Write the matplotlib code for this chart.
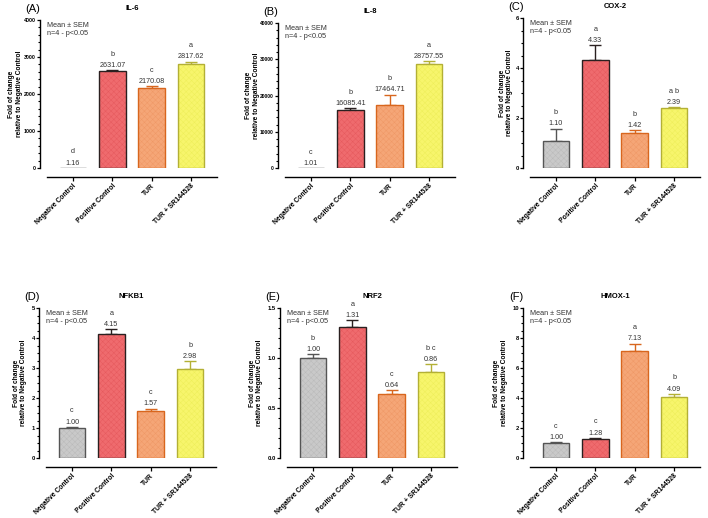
import numpy as np
import matplotlib
matplotlib.use('Agg')
import matplotlib.pyplot as plt
from matplotlib.ticker import MultipleLocator, FormatStrFormatter

plt.rcParams['font.family'] = ['Liberation Sans', 'DejaVu Sans']
plt.rcParams['hatch.linewidth'] = 0.35

# ========================= Data =========================
groups = ['Negative Control', 'Positive Control', 'TUR', 'TUR + SR144528']

il6_mean = [1.16, 2631.07, 2170.08, 2817.62]
il6_sem = [0, 15, 40, 60]
il6_letters = ['d', 'b', 'c', 'a']

il8_mean = [1.01, 16085.41, 17464.71, 28757.55]
il8_sem = [0, 450, 2800, 700]
il8_letters = ['c', 'b', 'b', 'a']

cox2_mean = [1.10, 4.33, 1.42, 2.39]
cox2_sem = [0.48, 0.58, 0.10, 0.05]
cox2_letters = ['b', 'a', 'b', 'a b']

nfkb1_mean = [1.00, 4.15, 1.57, 2.98]
nfkb1_sem = [0.04, 0.15, 0.08, 0.25]
nfkb1_letters = ['c', 'a', 'c', 'b']

nrf2_mean = [1.00, 1.31, 0.64, 0.86]
nrf2_sem = [0.04, 0.07, 0.04, 0.08]
nrf2_letters = ['b', 'a', 'c', 'b c']

hmox1_mean = [1.00, 1.28, 7.13, 4.09]
hmox1_sem = [0.06, 0.06, 0.50, 0.20]
hmox1_letters = ['c', 'c', 'a', 'b']

# ========================= Style =========================
FILLS = ['#c9c9c9', '#ef6b6e', '#f5a677', '#f7f56c']
HATCH = ['#bababa', '#e65a5e', '#ef9866', '#eeee5a']
EDGES = ['#555555', '#2a2020', '#d8661e', '#b3b035']

W, H = 708, 518
AX_W = 170

# (title, tag, means, sems, letters, ymax, major, minor,
#  left_px, top_px, bottom_px, tick size, ylabel x in px from axes left)
panels = [
    ('IL-6', '(A)', il6_mean, il6_sem, il6_letters, 4000, 1000, 200, 47, 20, 168, 3.8, -24),
    ('IL-8', '(B)', il8_mean, il8_sem, il8_letters, 40000, 10000, 2000, 285, 23, 168, 3.5, -25),
    ('COX-2', '(C)', cox2_mean, cox2_sem, cox2_letters, 6, 2, 0.5, 530, 18, 168, 4.2, -17),
    ('NFKB1', '(D)', nfkb1_mean, nfkb1_sem, nfkb1_letters, 5, 1, 0.25, 46, 308, 458, 4.2, -19),
    ('NRF2', '(E)', nrf2_mean, nrf2_sem, nrf2_letters, 1.5, 0.5, 0.1, 287, 308, 458, 4.2, -24),
    ('HMOX-1', '(F)', hmox1_mean, hmox1_sem, hmox1_letters, 10, 2, 0.5, 530, 308, 458, 4.2, -22),
]

fig = plt.figure(figsize=(W / 100, H / 100), dpi=100)

for (title, tag, means, sems, letters, ymax, major, minor,
     lpx, tpx, bpx, tsize, ylab_px) in panels:
    ax = fig.add_axes([lpx / W, 1 - bpx / H, AX_W / W, (bpx - tpx) / H])
    x = np.arange(len(groups))

    # hatch layer, then outline
    ax.bar(x, means, width=0.68, color=FILLS, edgecolor=HATCH, linewidth=0,
           hatch='xxxxxx', zorder=2)
    ax.bar(x, means, width=0.68, color='none', edgecolor=EDGES, linewidth=1.0,
           zorder=3)
    for i in range(len(groups)):
        if sems[i] > 0:
            ax.errorbar(x[i], means[i], yerr=[[0], [sems[i]]], fmt='none',
                        ecolor=EDGES[i], elinewidth=1.0, capsize=4.5,
                        capthick=1.0, zorder=1)
        top = means[i] + sems[i]
        ax.annotate(f'{means[i]:.2f}', (x[i], top), xytext=(0, 3.3),
                    textcoords='offset points', ha='center', va='center',
                    fontsize=5.2, color='#333333')
        ax.annotate(letters[i], (x[i], top), xytext=(0, 11.5),
                    textcoords='offset points', ha='center', va='center',
                    fontsize=5.2, color='#333333')

    ax.yaxis.set_major_locator(MultipleLocator(major))
    ax.yaxis.set_minor_locator(MultipleLocator(minor))
    if ymax == 1.5:
        ax.yaxis.set_major_formatter(FormatStrFormatter('%.1f'))
    ax.set_xlim(-0.66, 3.66)
    ax.set_ylim(0, ymax)

    for s in ['top', 'right']:
        ax.spines[s].set_visible(False)
    ax.spines['left'].set_position(('outward', 5))
    ax.spines['bottom'].set_position(('outward', 6.5))
    ax.spines['left'].set_linewidth(1.0)
    ax.spines['bottom'].set_linewidth(1.0)

    ax.tick_params(axis='y', which='major', length=2.4, width=0.9, labelsize=tsize, pad=0.6)
    ax.tick_params(axis='y', which='minor', length=1.3, width=0.8)
    ax.tick_params(axis='x', length=3, width=0.9, labelsize=4.9, pad=1)
    for lab in ax.get_yticklabels():
        lab.set_fontweight('bold')
    ax.set_xticks(x)
    ax.set_xticklabels(groups, rotation=45, ha='right', rotation_mode='anchor',
                       fontweight='bold')

    ax.set_ylabel('Fold of change\nrelative to Negative Control', fontsize=4.8,
                  fontweight='bold', linespacing=1.1)
    ax.yaxis.set_label_coords(ylab_px / AX_W, 0.5)
    ax.set_title(title, fontsize=5.5, fontweight='bold', pad=7)
    ax.text(0.0, 0.985, 'Mean ± SEM\nn=4 - p<0.05', transform=ax.transAxes,
            ha='left', va='top', fontsize=5.2, color='#333333', linespacing=1.2)

    fig.text((lpx - 14) / W, 1 - (tpx - 11) / H, tag, ha='center', va='center',
             fontsize=8)

fig.savefig('out.png', dpi=100)
